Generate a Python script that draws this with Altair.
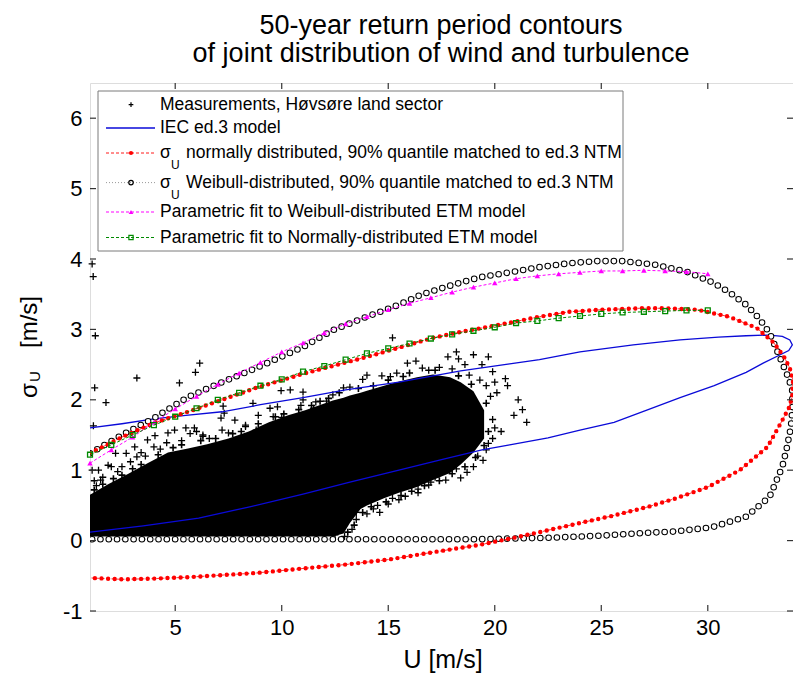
import altair as alt
import pandas as pd

FONT = "Liberation Sans"
W, H = 703, 528

x_ticks = [5, 10, 15, 20, 25, 30]
y_ticks = [-1, 0, 1, 2, 3, 4, 5, 6]

core_u = [1.0, 1.85, 2.8, 3.7, 4.66, 5.6, 6.5, 7.5, 8.45, 9.4, 10.3, 11.1, 12.4, 12.9, 13.2, 13.7, 14.0, 14.8, 15.5, 16.35, 17.1, 17.9, 18.4, 19.0, 19.5]
core_top = [0.65, 0.80, 0.95, 1.10, 1.25, 1.31, 1.37, 1.45, 1.55, 1.68, 1.78, 1.85, 1.99, 2.03, 2.06, 2.10, 2.13, 2.20, 2.26, 2.32, 2.36, 2.32, 2.25, 2.12, 1.85]
core_bot = [0.06, 0.06, 0.06, 0.06, 0.06, 0.06, 0.06, 0.06, 0.06, 0.06, 0.06, 0.06, 0.06, 0.10, 0.25, 0.45, 0.50, 0.60, 0.68, 0.76, 0.86, 0.96, 1.08, 1.25, 1.45]

# Individual measurement points around the core
meas_u = [1.10, 1.15, 1.25, 1.22, 1.75, 1.16, 3.20, 5.20, 5.95, 6.15,
          1.40, 1.20, 1.60, 2.00, 2.20, 2.70, 3.10, 3.60, 4.05, 4.60,
          4.30, 5.50, 5.90, 5.70, 6.30, 7.15, 7.30, 7.25, 7.80, 8.30,
          8.65, 8.90, 9.45, 9.80, 10.40, 10.00, 11.00, 11.00, 11.50, 12.10,
          12.90, 13.80, 14.00, 15.10, 15.90, 16.30, 15.20, 17.80, 18.20, 18.30,
          18.60, 19.00, 19.70, 19.40, 19.90, 20.00, 20.50, 20.60, 19.60, 20.10,
          21.10, 21.30, 20.90, 21.50, 20.00, 20.30, 19.90, 19.60, 19.45, 19.00,
          18.70, 18.40, 17.70, 17.20, 16.90, 16.40, 15.00, 15.50, 13.80, 14.30,
          13.10, 12.70, 13.50, 14.60, 12.50,
          9.97, 6.00, 6.30, 6.60, 4.97, 4.66, 3.70, 3.20, 2.50, 1.85,
          1.10, 1.50, 4.00, 7.50, 8.30, 8.80, 9.60, 7.20, 2.90, 3.40,
          1.30, 2.30, 5.30, 10.90, 11.60, 12.40, 13.20, 14.70, 15.40, 16.60,
          17.40, 18.00, 18.80, 19.30, 19.80, 19.90, 19.70, 19.20, 18.20, 17.60,
          17.00, 16.40, 15.80, 15.20, 14.50, 14.00, 13.50, 13.30, 12.95, 16.90]
meas_s = [3.93, 3.75, 2.91, 2.17, 1.96, 1.63, 2.31, 2.24, 2.39, 2.52,
          1.00, 0.85, 0.90, 1.05, 1.24, 1.24, 1.33, 1.20, 1.49, 1.39,
          1.30, 1.60, 1.60, 1.52, 1.48, 1.74, 1.81, 1.91, 1.71, 1.62,
          1.95, 1.78, 1.88, 1.90, 2.14, 1.75, 2.00, 2.11, 1.88, 1.98,
          2.17, 2.29, 2.35, 2.33, 2.52, 2.55, 2.88, 2.61, 2.68, 2.58,
          2.50, 2.64, 2.61, 2.50, 2.40, 2.25, 2.30, 2.20, 2.20, 2.10,
          2.00, 1.86, 1.78, 1.68, 1.60, 1.55, 1.45, 1.29, 1.14, 1.05,
          0.97, 0.89, 0.86, 0.90, 0.79, 0.68, 0.52, 0.58, 0.65, 0.45,
          0.34, 0.20, 0.40, 0.40, 0.08,
          2.13, 1.55, 1.50, 1.45, 1.57, 1.53, 1.43, 1.19, 1.05, 1.07,
          1.00, 0.86, 1.33, 1.53, 1.64, 1.57, 1.76, 1.57, 1.12, 1.25,
          0.78, 0.98, 1.42, 1.92, 1.97, 2.07, 2.18, 2.34, 2.38, 2.45,
          2.46, 2.44, 2.35, 2.28, 2.05, 1.72, 1.38, 1.20, 1.02, 0.99,
          0.83, 0.73, 0.63, 0.60, 0.50, 0.38, 0.30, 0.16, 0.06, 2.42]

# Points hugging the edge of the dense core
edge_u = [1.2, 1.6, 2.1, 2.5, 3.0, 3.4, 4.2, 4.9, 5.3, 6.2, 6.9, 7.7, 8.1, 8.9, 9.7, 10.1, 10.8, 11.4, 11.8, 12.2,
          12.7, 13.6, 14.3, 15.0, 15.7, 16.0, 17.2, 18.3, 18.9, 19.6, 19.7, 19.5, 19.1, 18.6, 18.0, 17.4, 16.7, 16.1, 15.6, 14.9,
          14.2, 13.8, 13.4, 13.1]
edge_s = [0.72, 0.80, 0.88, 0.93, 1.02, 1.08, 1.22, 1.32, 1.36, 1.42, 1.45, 1.52, 1.55, 1.66, 1.76, 1.80, 1.86, 1.92, 1.98, 2.02,
          2.10, 2.16, 2.20, 2.28, 2.33, 2.38, 2.42, 2.34, 2.22, 1.95, 1.55, 1.35, 1.18, 1.05, 0.95, 0.85, 0.78, 0.70, 0.64, 0.55,
          0.48, 0.40, 0.22, 0.12]

# IEC ed.3 model contour
iec_u = [1.0, 2.5, 4.0, 5.5, 7.2, 9.0, 11.0, 13.0, 15.5, 18.4, 20.7, 22.1, 24.0, 26.5, 28.7, 30.5, 31.8, 32.9, 33.5, 33.85,
         33.97, 33.8, 33.4, 32.6, 31.8, 30.3, 28.7, 27.2, 25.6, 24.0, 22.5, 20.7, 19.4, 17.5, 15.5, 13.2, 11.0, 8.5, 6.1, 3.5, 1.0]
iec_s = [1.60, 1.66, 1.73, 1.78, 1.83, 1.93, 2.03, 2.14, 2.25, 2.41, 2.51, 2.57, 2.68, 2.78, 2.85, 2.89, 2.91, 2.92, 2.90, 2.85,
         2.78, 2.70, 2.64, 2.52, 2.39, 2.20, 2.03, 1.86, 1.68, 1.57, 1.46, 1.36, 1.29, 1.15, 1.00, 0.83, 0.66, 0.48, 0.32, 0.21, 0.12]

# sigma_U normally distributed contour
norm_u = [1.0, 2.5, 4.0, 5.6, 7.2, 8.8, 10.9, 12.5, 14.0, 15.5, 17.1, 18.5, 20.3, 22.1, 23.5, 25.0, 26.8, 28.0, 29.5, 31.0,
          32.3, 33.1, 33.6, 33.85, 34.0, 33.96, 33.8, 33.5, 32.8, 31.5, 30.0, 28.5, 27.2, 25.5, 24.0, 22.1, 20.9, 19.3, 17.0, 15.0,
          13.0, 11.2, 8.8, 7.2, 5.6, 4.0, 2.5, 1.0]
norm_s = [1.24, 1.47, 1.67, 1.83, 2.00, 2.17, 2.36, 2.49, 2.61, 2.74, 2.88, 2.97, 3.07, 3.18, 3.25, 3.28, 3.30, 3.30, 3.28, 3.18,
          3.02, 2.81, 2.60, 2.45, 2.28, 2.04, 1.88, 1.71, 1.33, 1.00, 0.76, 0.60, 0.48, 0.35, 0.25, 0.12, 0.04, -0.06, -0.17, -0.27,
          -0.34, -0.39, -0.46, -0.49, -0.52, -0.54, -0.55, -0.53]

# sigma_U Weibull-distributed contour
weib_u = [1.0, 2.5, 4.0, 5.6, 7.2, 8.8, 11.0, 12.4, 14.0, 15.5, 16.6, 18.0, 19.3, 20.7, 22.0, 23.5, 24.8, 26.0, 27.5, 29.0,
          30.2, 31.0, 31.8, 32.4, 32.9, 33.5, 33.8, 33.96, 33.98, 33.9, 33.7, 33.5, 32.9, 31.8, 30.2, 28.5, 27.1, 25.0, 22.5, 19.3,
          15.0, 10.0, 5.0, 1.0]
weib_s = [1.24, 1.50, 1.74, 2.04, 2.25, 2.45, 2.75, 2.99, 3.18, 3.35, 3.50, 3.63, 3.74, 3.81, 3.88, 3.94, 3.97, 3.97, 3.92, 3.82,
          3.67, 3.53, 3.35, 3.16, 2.95, 2.52, 2.30, 2.14, 1.90, 1.61, 1.30, 1.05, 0.62, 0.34, 0.19, 0.13, 0.11, 0.07, 0.04, 0.02,
          0.02, 0.02, 0.02, 0.02]

# Parametric fits (markers at each integer wind speed)
etm_u = [1, 2, 3, 4, 5, 6, 7, 8, 9, 10, 11, 12, 13, 14, 15, 16, 17, 18, 19, 20, 21, 22, 23, 24, 25, 26, 27, 28, 29, 30]
etmw_s = [1.10, 1.29, 1.47, 1.68, 1.87, 2.05, 2.22, 2.38, 2.53, 2.68, 2.81, 2.95, 3.08, 3.18, 3.28, 3.37, 3.45, 3.53, 3.60, 3.66,
          3.72, 3.76, 3.79, 3.81, 3.83, 3.83, 3.84, 3.83, 3.82, 3.79]
etmn_s = [1.22, 1.36, 1.50, 1.64, 1.76, 1.88, 2.00, 2.10, 2.20, 2.29, 2.40, 2.48, 2.57, 2.66, 2.73, 2.80, 2.87, 2.93, 2.98, 3.03,
          3.09, 3.12, 3.16, 3.19, 3.22, 3.24, 3.25, 3.26, 3.27, 3.27]

legend_labels = [
    "Measurements, Høvsøre land sector",
    "IEC ed.3 model",
    "normally distributed, 90% quantile matched to ed.3 NTM",
    "Weibull-distributed, 90% quantile matched to ed.3 NTM",
    "Parametric fit to Weibull-distributed ETM model",
    "Parametric fit to Normally-distributed ETM model",
]

BLUE = "#0a0ad8"
RED = "#ff0000"
MAG = "#ff00ff"
GRN = "#008a00"

LABEL_EXPR = "datum.value < 0 ? '-' + abs(datum.value) : '' + datum.value"
xs = alt.Scale(domain=[1, 34], nice=False, zero=False)
ys = alt.Scale(domain=[-1, 6.5], nice=False, zero=False)
xaxis = alt.Axis(values=x_ticks, title=None, grid=False, ticks=False, domain=False, labelFontSize=22,
                 labelFont=FONT, labelColor="black", labelPadding=6, labelFlush=False, labelOverlap=False,
                 labelExpr=LABEL_EXPR)
yaxis = alt.Axis(values=y_ticks, title=None, grid=False, ticks=False, domain=False, labelFontSize=22,
                 labelFont=FONT, labelColor="black", labelPadding=8, labelFlush=False, labelOverlap=False,
                 labelExpr=LABEL_EXPR)


def X(f):
    return alt.X(f, type="quantitative", scale=xs, axis=xaxis)


def Y(f):
    return alt.Y(f, type="quantitative", scale=ys, axis=yaxis)


def curve(us, ss):
    return pd.DataFrame({"u": us, "s": ss, "i": list(range(len(us)))})


one = pd.DataFrame({"k": [0]})
layers = []

# measurement cloud
core = pd.DataFrame({"u": core_u, "top": core_top, "bot": core_bot})
layers.append(alt.Chart(core).mark_area(color="black", opacity=1).encode(
    x=X("u"), y=Y("top"), y2=alt.Y2("bot")))
PLUS = "M-1,0L1,0M0,-1L0,1"
layers.append(alt.Chart(pd.DataFrame({"u": edge_u, "s": edge_s})).mark_point(
    shape=PLUS, size=49, filled=False, stroke="black", strokeWidth=1.6, opacity=1).encode(x=X("u"), y=Y("s")))
layers.append(alt.Chart(pd.DataFrame({"u": meas_u, "s": meas_s})).mark_point(
    shape=PLUS, size=49, filled=False, stroke="black", strokeWidth=1.3, opacity=1).encode(x=X("u"), y=Y("s")))

# IEC model
layers.append(alt.Chart(curve(iec_u, iec_s)).mark_line(color=BLUE, strokeWidth=1.3, clip=True).encode(
    x=X("u"), y=Y("s"), order="i:Q"))

# Weibull sigma contour: open circles along a dotted line
wb = curve(weib_u, weib_s)
layers.append(alt.Chart(wb).mark_line(color="#555555", strokeWidth=0.6, strokeDash=[1, 2], clip=True).encode(
    x=X("u"), y=Y("s"), order="i:Q"))
layers.append(alt.Chart(wb).mark_line(color="black", strokeWidth=6.6, strokeDash=[0, 8.3], strokeCap="round", clip=True).encode(
    x=X("u"), y=Y("s"), order="i:Q"))
layers.append(alt.Chart(wb).mark_line(color="white", strokeWidth=4.6, strokeDash=[0, 8.3], strokeCap="round", clip=True).encode(
    x=X("u"), y=Y("s"), order="i:Q"))

# Normal sigma contour: red dots along a dashed line
nm = curve(norm_u, norm_s)
layers.append(alt.Chart(nm).mark_line(color=RED, strokeWidth=0.8, strokeDash=[3, 2], clip=True).encode(
    x=X("u"), y=Y("s"), order="i:Q"))
layers.append(alt.Chart(nm).mark_line(color=RED, strokeWidth=4.4, strokeDash=[0, 6.6], strokeCap="round", clip=True).encode(
    x=X("u"), y=Y("s"), order="i:Q"))

# Parametric fits
ew = curve(etm_u, etmw_s)
layers.append(alt.Chart(ew).mark_line(color=MAG, strokeWidth=1, strokeDash=[3, 2]).encode(x=X("u"), y=Y("s"), order="i:Q"))
layers.append(alt.Chart(ew).mark_point(shape="triangle-up", size=30, filled=True, color=MAG, opacity=1).encode(x=X("u"), y=Y("s")))
en = curve(etm_u, etmn_s)
layers.append(alt.Chart(en).mark_line(color=GRN, strokeWidth=1, strokeDash=[3, 2]).encode(x=X("u"), y=Y("s"), order="i:Q"))
layers.append(alt.Chart(en).mark_point(shape="square", size=24, filled=False, color=GRN, strokeWidth=1.3, opacity=1).encode(x=X("u"), y=Y("s")))

# inward ticks on all four sides
tx = pd.DataFrame({"u": x_ticks})
ty = pd.DataFrame({"s": y_ticks})
TK = dict(color="#333333", strokeWidth=1.2)
layers.append(alt.Chart(tx).mark_rule(**TK).encode(x=X("u"), y=alt.value(H), y2=alt.value(H - 6)))
layers.append(alt.Chart(tx).mark_rule(**TK).encode(x=X("u"), y=alt.value(0), y2=alt.value(6)))
layers.append(alt.Chart(ty).mark_rule(**TK).encode(y=Y("s"), x=alt.value(0), x2=alt.value(6)))
layers.append(alt.Chart(ty).mark_rule(**TK).encode(y=Y("s"), x=alt.value(W), x2=alt.value(W - 6)))

# legend box
layers.append(alt.Chart(one).mark_rect(fill="white", stroke="#7a7a7a", strokeWidth=1).encode(
    x=alt.value(8), x2=alt.value(533), y=alt.value(8), y2=alt.value(168)))
rows = [21.7, 45, 70, 99.6, 129, 154.5]
LX0, LX1, LM, LT = 16, 65, 41, 70
LF = 17.5


def ltext(txt, x, y, size=LF, **kw):
    return alt.Chart(one).mark_text(text=txt, font=FONT, fontSize=size, align="left", baseline="middle",
                                    color="black", **kw).encode(x=alt.value(x), y=alt.value(y))


layers.append(alt.Chart(one).mark_point(shape=PLUS, size=22, filled=False, stroke="black", strokeWidth=1.2, opacity=1).encode(
    x=alt.value(LM), y=alt.value(rows[0])))
layers.append(ltext(legend_labels[0], LT, rows[0]))
layers.append(alt.Chart(one).mark_rule(color=BLUE, strokeWidth=1.3).encode(x=alt.value(LX0), x2=alt.value(LX1), y=alt.value(rows[1])))
layers.append(ltext(legend_labels[1], LT, rows[1]))
layers.append(alt.Chart(one).mark_rule(color=RED, strokeWidth=0.9, strokeDash=[3, 2]).encode(x=alt.value(LX0), x2=alt.value(LX1), y=alt.value(rows[2])))
layers.append(alt.Chart(one).mark_point(shape="circle", size=18, filled=True, color=RED, opacity=1).encode(x=alt.value(LM), y=alt.value(rows[2])))
layers.append(alt.Chart(one).mark_rule(color="#8c8c8c", strokeWidth=0.9, strokeDash=[1, 2]).encode(x=alt.value(LX0), x2=alt.value(LX1), y=alt.value(rows[3])))
layers.append(alt.Chart(one).mark_point(shape="circle", size=20, filled=False, color="black", strokeWidth=1.2, opacity=1).encode(x=alt.value(LM), y=alt.value(rows[3])))
for r in (2, 3):
    layers.append(ltext("σ", LT, rows[r]))
    layers.append(ltext("U", LT + 11, rows[r] + 12, size=12))
    layers.append(ltext(legend_labels[r], LT + 26, rows[r]))
layers.append(alt.Chart(one).mark_rule(color=MAG, strokeWidth=1, strokeDash=[3, 2]).encode(x=alt.value(LX0), x2=alt.value(LX1), y=alt.value(rows[4])))
layers.append(alt.Chart(one).mark_point(shape="triangle-up", size=22, filled=True, color=MAG, opacity=1).encode(x=alt.value(LM), y=alt.value(rows[4])))
layers.append(ltext(legend_labels[4], LT, rows[4]))
layers.append(alt.Chart(one).mark_rule(color=GRN, strokeWidth=1, strokeDash=[3, 2]).encode(x=alt.value(LX0), x2=alt.value(LX1), y=alt.value(rows[5])))
layers.append(alt.Chart(one).mark_point(shape="square", size=18, filled=False, color=GRN, strokeWidth=1.2, opacity=1).encode(x=alt.value(LM), y=alt.value(rows[5])))
layers.append(ltext(legend_labels[5], LT, rows[5]))

# title lines
for txt, yy in (("50-year return period contours", -57), ("of joint distribution of wind and turbulence", -29)):
    layers.append(alt.Chart(one).mark_text(text=txt, font=FONT, fontSize=27, align="center", baseline="middle",
                                           color="black").encode(x=alt.value(351), y=alt.value(yy)))

# axis titles
layers.append(alt.Chart(one).mark_text(text="U [m/s]", font=FONT, fontSize=25, align="center", baseline="middle",
                                       color="black").encode(x=alt.value(353), y=alt.value(577)))
layers.append(alt.Chart(one).mark_text(text="σ", font=FONT, fontSize=24, angle=270, align="left", baseline="alphabetic",
                                       color="black").encode(x=alt.value(-53), y=alt.value(315)))
layers.append(alt.Chart(one).mark_text(text="U", font=FONT, fontSize=15, angle=270, align="left", baseline="alphabetic",
                                       color="black").encode(x=alt.value(-50.5), y=alt.value(299)))
layers.append(alt.Chart(one).mark_text(text="[m/s]", font=FONT, fontSize=24, angle=270, align="left", baseline="alphabetic",
                                       color="black").encode(x=alt.value(-53), y=alt.value(265)))

chart = alt.layer(*layers).properties(
    width=W, height=H,
    autosize=alt.AutoSizeParams(type="none"),
    padding={"left": 82, "top": 75, "right": 0, "bottom": 66},
).configure_view(stroke="#333333", strokeWidth=1.3).configure(background="white")

chart.save("out.html", embed_options={"renderer": "svg", "actions": False})
